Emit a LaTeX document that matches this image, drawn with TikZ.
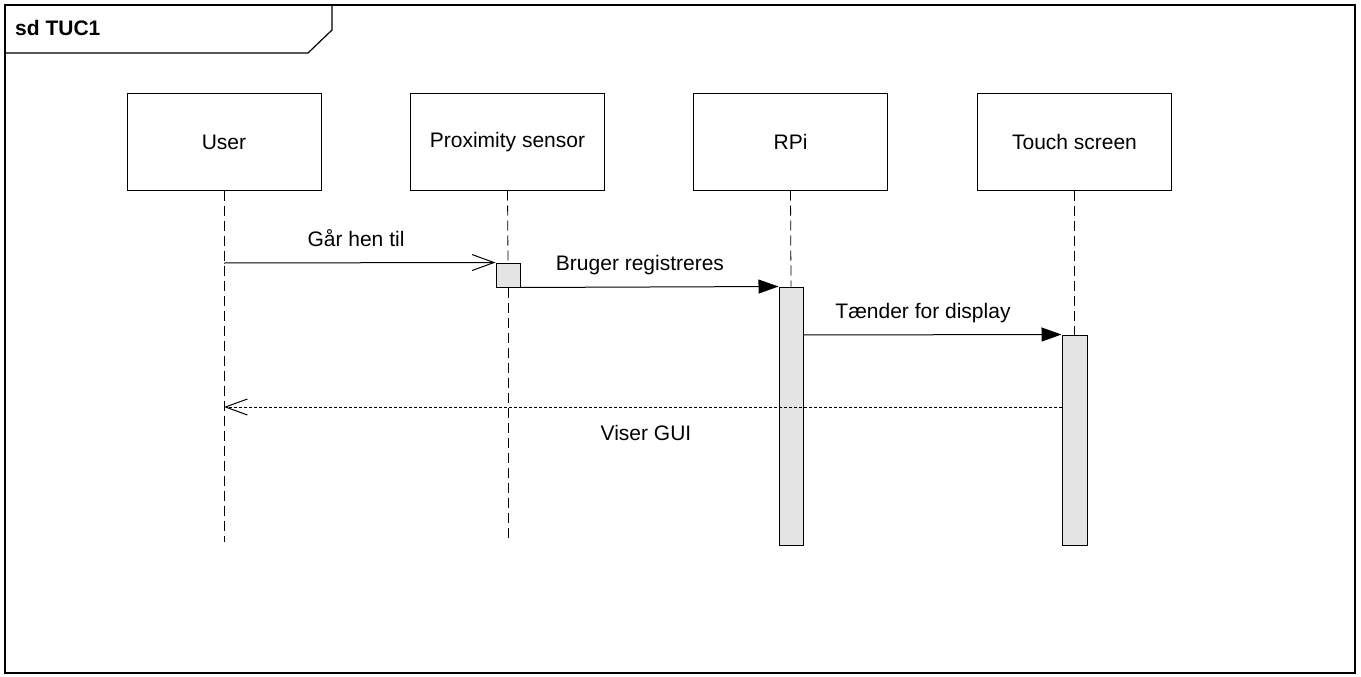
\documentclass[tikz,border=0pt]{standalone}
\usepackage{fontspec}
\setmainfont{Liberation Sans}
\usetikzlibrary{arrows.meta}
\definecolor{actgray}{HTML}{E4E4E4}
\begin{document}
\begin{tikzpicture}[x=1pt,y=-1pt,
  txt/.style={font=\fontsize{21}{25}\selectfont},
  lifebox/.style={draw,line width=1pt,minimum width=194pt,minimum height=96pt,inner sep=0pt,txt},
  actbox/.style={draw,line width=1pt,fill=actgray,minimum width=24pt,inner sep=0pt},
  lifeline/.style={line width=0.8pt,dash pattern=on 10pt off 5pt},
  msg/.style={line width=1pt},
  sync/.style={msg,-{Triangle[length=20pt,width=14pt]}},
  async/.style={msg,-{Straight Barb[length=22pt,width=16pt,line width=1pt]}},
  reply/.style={line width=0.8pt,dash pattern=on 3pt off 2pt,-{Straight Barb[length=22pt,width=16pt,line width=1pt]}},
  lbl/.style={txt,inner sep=0pt,anchor=base}]
\useasboundingbox (0,0) rectangle (1361,677);
% frame
\draw[line width=1.2pt] (5,5) rectangle (1355,673);
\draw[line width=1.2pt] (5,53) -- (308,53) -- (332,30) -- (332,5);
\node[lbl,anchor=base west,font=\fontsize{21}{25}\selectfont\bfseries] (title) at (15,36) {sd TUC1};
% lifeline heads
\node[lifebox] (user) at (224,142) {User};
\node[lifebox] (prox) at (507.5,142) {Proximity sensor};
\node[lifebox] (rpi) at (790.5,142) {RPi};
\node[lifebox] (touch) at (1074.5,142) {Touch screen};
% activations
\node[actbox,minimum height=24pt] (pa) at (508,275) {};
\node[actbox,minimum height=258pt] (ra) at (791,416) {};
\node[actbox,minimum height=210pt,minimum width=25pt] (ta) at (1074.5,440) {};
% lifelines
\coordinate (userend) at (224,542);
\coordinate (proxend) at (508,542);
\draw[lifeline] (user.south) -- (userend);
\draw[lifeline] (prox.south) -- (pa.north);
\draw[lifeline] (pa.south) -- (proxend);
\draw[lifeline] (rpi.south) -- (ra.north);
\draw[lifeline] (touch.south) -- (ta.north);
% messages
\coordinate (m1s) at (224,263);
\draw[async] (m1s) -- (pa.north west);
\node[lbl] (l1) at (356,246) {Går hen til};
\draw[sync] (pa.south east) -- (ra.north west);
\node[lbl] (l2) at (640,270) {Bruger registreres};
\coordinate (m3s) at (803,335);
\draw[sync] (m3s) -- (ta.north west);
\node[lbl] (l3) at (923,318) {Tænder for display};
\coordinate (m4s) at (1062,407);
\coordinate (m4e) at (224,407);
\draw[reply] (m4s) -- (m4e);
\node[lbl] (l4) at (646,440) {Viser GUI};
\end{tikzpicture}
\end{document}
